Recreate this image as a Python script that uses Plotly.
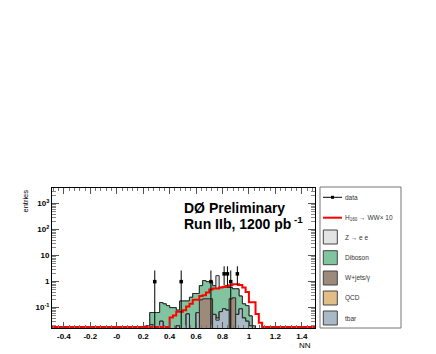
import numpy as np
import plotly.graph_objects as go

# NN output histogram: 80 bins of 0.025 between -0.5 and 1.5
edges = np.round(np.linspace(-0.5, 1.5, 81), 4)
first_bin = 28  # values below start at the bin 0.200-0.225 and run to 1.075-1.100

tbar = [0.019, 0.02, 0.022, 0, 0, 0.03, 0, 0, 0, 0,
        0.02, 0, 0, 0.057, 0, 0, 0.064, 0, 0, 0,
        0, 0.055, 0.033, 0.07, 0.09, 0.08, 0, 0, 0.055, 0.09,
        0.04, 0.03, 0.02, 0, 0, 0]
qcd = [0, 0, 0, 0, 0, 0, 0, 0, 0, 0,
       0, 0, 0, 0, 0, 0, 0, 0, 0, 0,
       0, 0, 0.007, 0, 0, 0, 0, 0, 0, 0,
       0, 0, 0, 0, 0, 0]
wjets = [0, 0, 0, 0, 0, 0, 0, 0, 0, 0,
         0, 0, 0, 0, 0, 0, 0, 0.2, 0.22, 0.22,
         0.22, 0, 0, 0, 0, 0, 0.22, 0.24, 0, 0,
         0, 0, 0, 0, 0, 0]
diboson = [0, 0, 0.043, 0.065, 0.065, 0.127, 0.14, 0.12, 0.1, 0.1,
           0.06, 0.18, 0.18, 0.123, 0.25, 0.35, 0.286, 0.5, 0.88, 0.78,
           0.78, 0.645, 0.51, 0.53, 0.56, 0.52, 0.38, 0.29, 0.475, 0.19,
           0.1, 0.09, 0.028, 0.02, 0, 0]
zee = [0, 0, 0, 0, 0, 0, 0, 0, 0, 0,
       0, 0, 0, 0, 0, 0, 0, 0, 0, 0,
       0, 0, 1.15, 0, 0, 0, 0, 0, 0, 0,
       0, 0, 0, 0, 0, 0]
signal = [0, 0, 0, 0, 0, 0, 0, 0, 0.042, 0.05,
          0.07, 0.07, 0.08, 0.11, 0.14, 0.2, 0.2, 0.28, 0.3, 0.38,
          0.5, 0.55, 0.55, 0.6, 0.62, 0.68, 0.72, 0.8, 0.8, 0.75,
          0.6, 0.4, 0.16, 0.16, 0.057, 0.026]

data_x = [0.2875, 0.4875, 0.7125, 0.8125, 0.8375, 0.8625, 0.9125]
data_y = [1, 1, 1, 2, 2, 1, 2]
data_up = [1.7, 1.7, 1.7, 1.9, 1.9, 1.7, 1.9]
data_dn = [1, 1, 1, 1.3, 1.3, 1, 1.3]

ymin, ymax = 0.0165, 4000

def full(vals):
    h = np.zeros(len(edges) - 1)
    h[first_bin:first_bin + len(vals)] = vals
    return h

def steps(h, floor):
    y = np.maximum(h, floor)
    return np.append(y, y[-1])

samples = [("tbar", tbar, "#a9bac6"),
           ("QCD", qcd, "#e2bd86"),
           ("W+jets/γ", wjets, "#9c8a7b"),
           ("Diboson", diboson, "#82c4a0"),
           ("Z → e e", zee, "#e3e3e3")]

fig = go.Figure()

# stacked backgrounds, drawn from the top of the stack down
cum = np.zeros(len(edges) - 1)
stack = []
for name, vals, col in samples:
    cum = cum + full(vals)
    stack.append((name, cum.copy(), col))
for name, h, col in reversed(stack):
    fig.add_trace(go.Scatter(x=edges, y=steps(h, 1e-4), mode="lines",
                             line=dict(shape="hv", color="#2a2a2a", width=1),
                             fill="tozeroy", fillcolor=col, showlegend=False))

# signal x10, empty bins sit on the frame like in ROOT
fig.add_trace(go.Scatter(x=edges, y=steps(full(signal), ymin * 1.1), mode="lines",
                         line=dict(shape="hv", color="#ff0000", width=2),
                         showlegend=False))

fig.add_trace(go.Scatter(x=data_x, y=data_y, mode="markers",
                         marker=dict(symbol="square", size=3.5, color="black"),
                         error_y=dict(type="data", symmetric=False, array=data_up,
                                      arrayminus=data_dn, color="black",
                                      thickness=1, width=0),
                         showlegend=False))

# page pixel positions (the figure sits 8px in from the page corner)
OFF = 8
L, R, T, B = 52, 315, 188, 328

def px(x, y):
    return (x - L) / (R - L), (B - y) / (B - T)

shapes = []
annos = []

# legend box, built by hand like the ROOT one
x0, y0 = px(320, 187)
x1, y1 = px(401, 328)
shapes.append(dict(type="rect", xref="paper", yref="paper", x0=x0, y0=y0, x1=x1, y1=y1,
                   line=dict(color="#777", width=1), fillcolor="white"))

def legtext(y, text):
    x, yy = px(343, y)
    annos.append(dict(xref="paper", yref="paper", x=x, y=yy, text=text, showarrow=False,
                      xanchor="left", yanchor="middle",
                      font=dict(size=6.5, color="#333")))

a, ya = px(323, 197.3)
b, _ = px(342, 197.3)
shapes.append(dict(type="line", xref="paper", yref="paper", x0=a, x1=b, y0=ya, y1=ya,
                   line=dict(color="black", width=1)))
m0, my0 = px(331, 198.8)
m1, my1 = px(334, 195.8)
shapes.append(dict(type="rect", xref="paper", yref="paper", x0=m0, x1=m1, y0=my0, y1=my1,
                   line=dict(width=0), fillcolor="black"))
legtext(197.3, "data")

a, ya = px(323, 217.7)
shapes.append(dict(type="line", xref="paper", yref="paper", x0=a, x1=b, y0=ya, y1=ya,
                   line=dict(color="#ff0000", width=2)))
legtext(217.7, "H<sub>160</sub> → WW× 10")

for (name, vals, col), yc in zip(reversed(samples), [237, 257.7, 278, 298, 318]):
    bx0, by0 = px(323.3, yc + 7)
    bx1, by1 = px(337.3, yc - 7)
    shapes.append(dict(type="rect", xref="paper", yref="paper", x0=bx0, x1=bx1, y0=by0, y1=by1,
                       line=dict(color="#444", width=1), fillcolor=col))
    legtext(yc, name)

tx, ty = px(182, 208)
annos.append(dict(xref="paper", yref="paper", x=tx, y=ty, text="<b>DØ Preliminary</b>",
                  showarrow=False, xanchor="left", yanchor="middle",
                  font=dict(size=14, color="black")))
tx, ty = px(182, 223)
annos.append(dict(xref="paper", yref="paper", x=tx, y=ty,
                  text="<b>Run IIb, 1200 pb<sup> -1</sup></b>",
                  showarrow=False, xanchor="left", yanchor="middle",
                  font=dict(size=14, color="black")))
tx, ty = px(25, 188)
annos.append(dict(xref="paper", yref="paper", x=tx, y=ty, text="entries", textangle=-90,
                  showarrow=False, xanchor="center", yanchor="top",
                  font=dict(size=7.5, color="black")))
tx, ty = px(313, 345.5)
annos.append(dict(xref="paper", yref="paper", x=tx, y=ty, text="NN",
                  showarrow=False, xanchor="right", yanchor="middle",
                  font=dict(size=8, color="black")))

xticks = [-0.4, -0.2, 0, 0.2, 0.4, 0.6, 0.8, 1, 1.2, 1.4]
xlabels = ["-0.4", "-0.2", "-0", "0.2", "0.4", "0.6", "0.8", "1", "1.2", "1.4"]
yticks = [0.1, 1, 10, 100, 1000]
ylabels = ["10<sup>-1</sup>", "1", "10", "10<sup>2</sup>", "10<sup>3</sup>"]

fig.update_layout(
    width=436, height=354,
    margin=dict(l=L - OFF, r=436 - R + OFF, t=T - OFF, b=354 - B + OFF),
    paper_bgcolor="white", plot_bgcolor="white",
    font=dict(family="Liberation Sans, Arial, sans-serif"),
    shapes=shapes, annotations=annos,
    xaxis=dict(range=[-0.49, 1.5], tickmode="array", tickvals=xticks, ticktext=xlabels,
               ticks="inside", ticklen=6, tickcolor="#555", mirror="allticks",
               showline=True, linecolor="black", linewidth=1, showgrid=False, zeroline=False,
               tickfont=dict(size=8, color="black", weight="bold"),
               minor=dict(ticks="inside", ticklen=3, tickcolor="#777", tickmode="linear",
                          tick0=0, dtick=0.04)),
    yaxis=dict(type="log", range=[np.log10(ymin), np.log10(ymax)], tickmode="array",
               tickvals=yticks, ticktext=ylabels,
               ticks="inside", ticklen=7, tickcolor="#555", mirror="allticks",
               showline=True, linecolor="black", linewidth=1, showgrid=False, zeroline=False,
               tickfont=dict(size=8, color="black", weight="bold"),
               minor=dict(ticks="inside", ticklen=4, tickcolor="#888", dtick="D1")),
)

fig.write_html("out.html")
